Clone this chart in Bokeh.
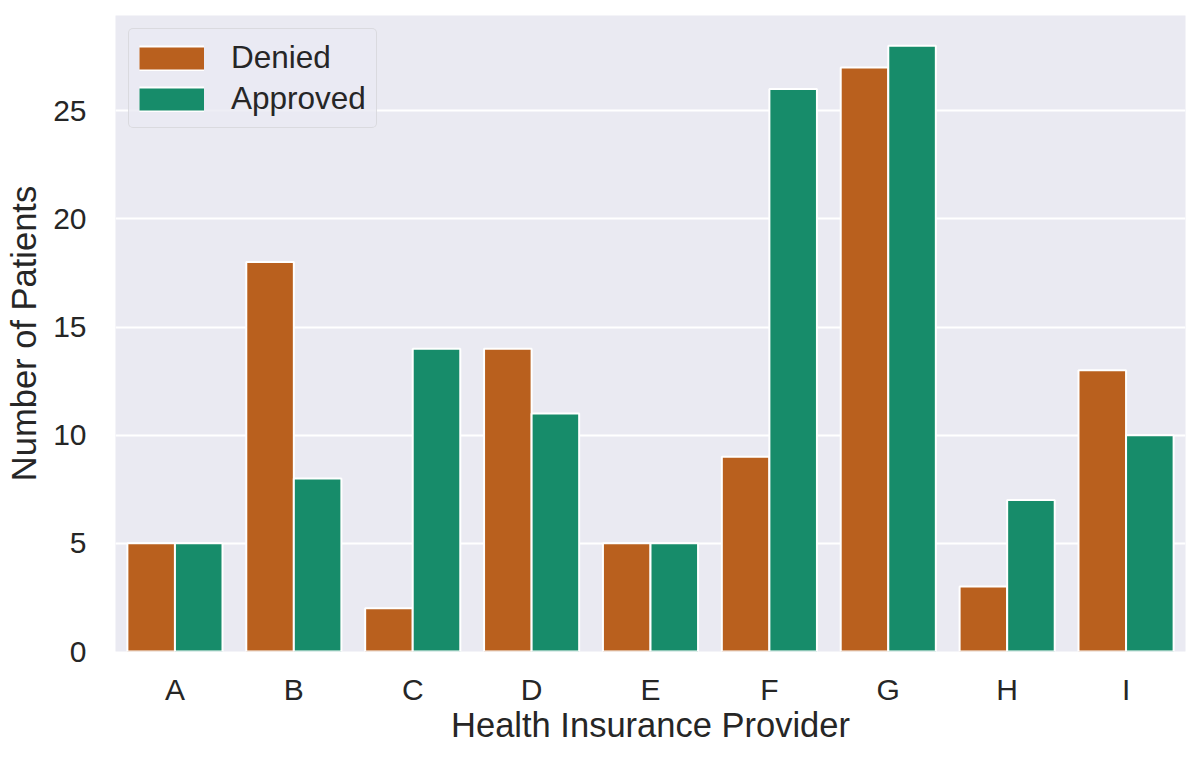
from bokeh.plotting import figure
from bokeh.models import ColumnDataSource, FactorRange, Range1d, Legend, LegendItem, FixedTicker
from bokeh.transform import dodge
from bokeh.embed import file_html
from bokeh.resources import INLINE

providers = ["A", "B", "C", "D", "E", "F", "G", "H", "I"]
denied = [5, 18, 2, 14, 5, 9, 27, 3, 13]
approved = [5, 8, 14, 11, 5, 26, 28, 7, 10]
y_ticks = [0, 5, 10, 15, 20, 25]

FONT = "Liberation Sans"
TXT = "#262626"
C_DEN = "#b9601e"
C_APP = "#178c6a"

src = ColumnDataSource(dict(provider=providers, denied=denied, approved=approved))

p = figure(x_range=FactorRange(*providers, range_padding=0),
           y_range=Range1d(0, max(approved + denied) * 1.05),
           width=1200, height=758,
           output_backend="svg", toolbar_location=None,
           min_border_left=115, min_border_right=15, min_border_top=15, min_border_bottom=107)

p.vbar(x=dodge("provider", -0.2, range=p.x_range), top="denied", width=0.4, source=src,
       fill_color=C_DEN, line_color="white", line_width=2)
p.vbar(x=dodge("provider", 0.2, range=p.x_range), top="approved", width=0.4, source=src,
       fill_color=C_APP, line_color="white", line_width=2)

# legend proxies: lines placed below the visible y range, so only their legend swatch shows
proxy_x = [providers[0], providers[1]]
proxy_y = [-10, -10]
w1 = p.line(x=proxy_x, y=proxy_y, line_color="white", line_width=26, line_cap="butt")
l1 = p.line(x=proxy_x, y=proxy_y, line_color=C_DEN, line_width=22, line_cap="butt")
w2 = p.line(x=proxy_x, y=proxy_y, line_color="white", line_width=26, line_cap="butt")
l2 = p.line(x=proxy_x, y=proxy_y, line_color=C_APP, line_width=22, line_cap="butt")

p.background_fill_color = "#eaeaf2"
p.border_fill_color = "white"
p.outline_line_color = None
p.xgrid.grid_line_color = None
p.ygrid.grid_line_color = "white"
p.ygrid.grid_line_width = 2
p.yaxis.ticker = FixedTicker(ticks=y_ticks)

for ax in (p.xaxis[0], p.yaxis[0]):
    ax.axis_line_color = None
    ax.major_tick_line_color = None
    ax.minor_tick_line_color = None
    ax.major_tick_out = 0
    ax.major_tick_in = 0
    ax.major_label_text_font = FONT
    ax.major_label_text_font_size = "30px"
    ax.major_label_text_color = TXT
    ax.axis_label_text_font = FONT
    ax.axis_label_text_font_size = "34.5px"
    ax.axis_label_text_color = TXT
    ax.axis_label_text_font_style = "normal"

p.xaxis.axis_label = "Health Insurance Provider"
p.yaxis.axis_label = "Number of Patients"
p.xaxis.major_label_standoff = 21
p.xaxis.axis_label_standoff = -3
p.yaxis.major_label_standoff = 29
p.yaxis.axis_label_standoff = 7

legend = Legend(items=[LegendItem(label="Denied", renderers=[w1, l1]),
                       LegendItem(label="Approved", renderers=[w2, l2])],
                location="top_left", margin=13, padding=10, spacing=4,
                glyph_width=65, glyph_height=26, label_standoff=27,
                label_text_font=FONT, label_text_font_size="31.5px", label_text_color=TXT,
                background_fill_color="#eaeaf2", background_fill_alpha=0.8,
                border_line_color="#cccccc", border_line_width=1.5, border_radius=5)
p.add_layout(legend, "center")

open("out.html", "w").write(file_html(p, INLINE))
